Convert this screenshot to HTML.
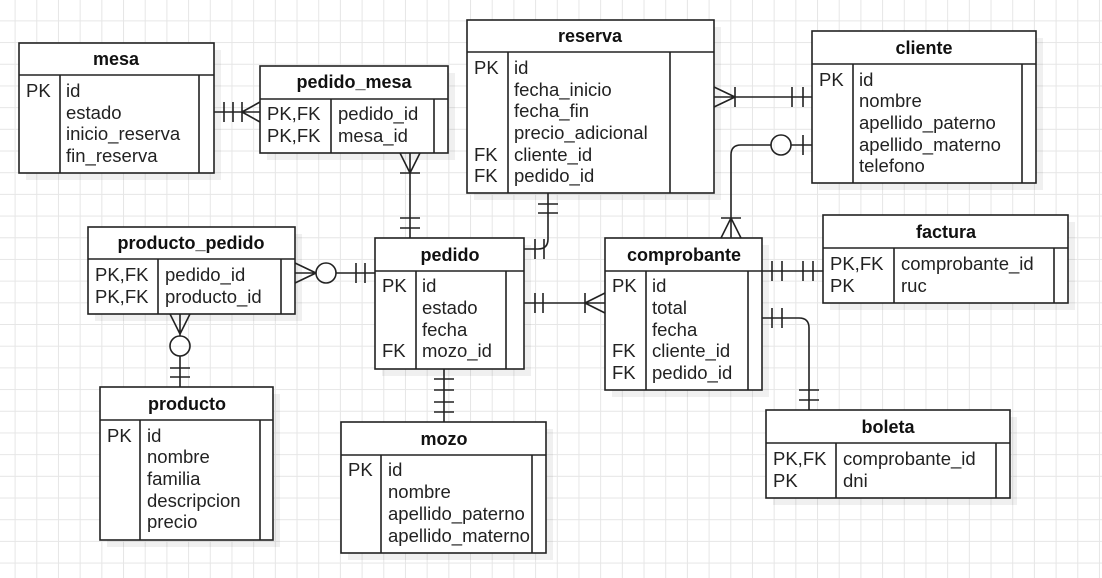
<!DOCTYPE html>
<html><head><meta charset="utf-8"><style>
html,body{margin:0;padding:0;}
body{width:1102px;height:578px;overflow:hidden;background-color:#fff;
background-image:linear-gradient(to right,#e6e6e6 1px,transparent 1px),linear-gradient(to bottom,#e6e6e6 1px,transparent 1px);
background-size:21.7px 21.7px;background-position:14.6px 20.4px;}
svg{position:absolute;left:0;top:0;}
text{font-family:"Liberation Sans",sans-serif;font-size:18.5px;fill:#222;}
.h{font-weight:bold;font-size:18px;text-anchor:middle;fill:#111;}
.b{fill:#fff;stroke:#222;stroke-width:1.6;}
.s{fill:#000;opacity:.06;}
.l{stroke:#222;stroke-width:1.6;fill:none;}
</style></head><body>
<svg width="1102" height="578" viewBox="0 0 1102 578">
<g class="shadows">
<rect class="s" x="26" y="50" width="195" height="130"/>
<rect class="s" x="267" y="73" width="188" height="87"/>
<rect class="s" x="474" y="27" width="247" height="173"/>
<rect class="s" x="819" y="38" width="224" height="152"/>
<rect class="s" x="95" y="234" width="207" height="87"/>
<rect class="s" x="382" y="245" width="149" height="131"/>
<rect class="s" x="612" y="245" width="157" height="152"/>
<rect class="s" x="830" y="222" width="245" height="88"/>
<rect class="s" x="107" y="394" width="173" height="153"/>
<rect class="s" x="348" y="429" width="205" height="131"/>
<rect class="s" x="773" y="417" width="244" height="88"/>
</g>

<!-- mesa -->
<rect class="b" x="19" y="43" width="195" height="130"/>
<path class="l" d="M19,75H214M60,75V173M199,75V173"/>
<text class="h" x="116" y="65">mesa</text>
<text x="26" y="97">PK</text>
<text x="66" y="97">id</text><text x="66" y="119">estado</text><text x="66" y="140">inicio_reserva</text><text x="66" y="162">fin_reserva</text>

<!-- pedido_mesa -->
<rect class="b" x="260" y="66" width="188" height="87"/>
<path class="l" d="M260,99H448M331,99V153M434,99V153"/>
<text class="h" x="354" y="88">pedido_mesa</text>
<text x="267" y="120">PK,FK</text><text x="338" y="120">pedido_id</text>
<text x="267" y="142">PK,FK</text><text x="338" y="142">mesa_id</text>

<!-- reserva -->
<rect class="b" x="467" y="20" width="247" height="173"/>
<path class="l" d="M467,52H714M508,52V193M670,52V193"/>
<text class="h" x="590" y="42">reserva</text>
<text x="474" y="74">PK</text>
<text x="474" y="161">FK</text><text x="474" y="182">FK</text>
<text x="514" y="74">id</text><text x="514" y="96">fecha_inicio</text><text x="514" y="117">fecha_fin</text><text x="514" y="139">precio_adicional</text><text x="514" y="161">cliente_id</text><text x="514" y="182">pedido_id</text>

<!-- cliente -->
<rect class="b" x="812" y="31" width="224" height="152"/>
<path class="l" d="M812,64H1036M853,64V183M1022,64V183"/>
<text class="h" x="924" y="54">cliente</text>
<text x="819" y="86">PK</text>
<text x="859" y="86">id</text><text x="859" y="107">nombre</text><text x="859" y="129">apellido_paterno</text><text x="859" y="151">apellido_materno</text><text x="859" y="172">telefono</text>

<!-- producto_pedido -->
<rect class="b" x="88" y="227" width="207" height="87"/>
<path class="l" d="M88,259H295M158,259V314M281,259V314"/>
<text class="h" x="191" y="249">producto_pedido</text>
<text x="95" y="281">PK,FK</text><text x="165" y="281">pedido_id</text>
<text x="95" y="303">PK,FK</text><text x="165" y="303">producto_id</text>

<!-- pedido -->
<rect class="b" x="375" y="238" width="149" height="131"/>
<path class="l" d="M375,271H524M416,271V369M506,271V369"/>
<text class="h" x="450" y="261">pedido</text>
<text x="382" y="292">PK</text><text x="382" y="357">FK</text>
<text x="422" y="292">id</text><text x="422" y="314">estado</text><text x="422" y="336">fecha</text><text x="422" y="357">mozo_id</text>

<!-- comprobante -->
<rect class="b" x="605" y="238" width="157" height="152"/>
<path class="l" d="M605,271H762M646,271V390M748,271V390"/>
<text class="h" x="684" y="261">comprobante</text>
<text x="612" y="292">PK</text><text x="612" y="357">FK</text><text x="612" y="379">FK</text>
<text x="652" y="292">id</text><text x="652" y="314">total</text><text x="652" y="336">fecha</text><text x="652" y="357">cliente_id</text><text x="652" y="379">pedido_id</text>

<!-- factura -->
<rect class="b" x="823" y="215" width="245" height="88"/>
<path class="l" d="M823,248H1068M894,248V303M1054,248V303"/>
<text class="h" x="946" y="238">factura</text>
<text x="830" y="270">PK,FK</text><text x="901" y="270">comprobante_id</text>
<text x="830" y="292">PK</text><text x="901" y="292">ruc</text>

<!-- producto -->
<rect class="b" x="100" y="387" width="173" height="153"/>
<path class="l" d="M100,420H273M140,420V540M260,420V540"/>
<text class="h" x="187" y="410">producto</text>
<text x="107" y="442">PK</text>
<text x="147" y="442">id</text><text x="147" y="463">nombre</text><text x="147" y="485">familia</text><text x="147" y="507">descripcion</text><text x="147" y="528">precio</text>

<!-- mozo -->
<rect class="b" x="341" y="422" width="205" height="131"/>
<path class="l" d="M341,455H546M381,455V553M532,455V553"/>
<text class="h" x="444" y="445">mozo</text>
<text x="348" y="476">PK</text>
<text x="388" y="476">id</text><text x="388" y="498">nombre</text><text x="388" y="520">apellido_paterno</text><text x="388" y="542">apellido_materno</text>

<!-- boleta -->
<rect class="b" x="766" y="410" width="244" height="88"/>
<path class="l" d="M766,443H1010M836,443V498M996,443V498"/>
<text class="h" x="888" y="433">boleta</text>
<text x="773" y="465">PK,FK</text><text x="843" y="465">comprobante_id</text>
<text x="773" y="487">PK</text><text x="843" y="487">dni</text>

<!-- connectors -->
<g class="l">
<!-- mesa - pedido_mesa -->
<path d="M214,112H260M224,102V122M233,102V122M242,102V122M242,112L260,102M242,112L260,122"/>
<!-- pedido_mesa - pedido -->
<path d="M410,153V238M400,173H420M410,173L400,153M410,173L420,153M400,218H420M400,228H420"/>
<!-- reserva - pedido -->
<path d="M548,193V239Q548,249 538,249H524M538,204H558M538,213H558M535,239V259M544,239V259"/>
<!-- reserva - cliente -->
<path d="M714,97H812M735,87V107M735,97L714,87M735,97L714,107M792,87V107M803,87V107"/>
<!-- cliente - comprobante -->
<path d="M812,145H791M771,145H741Q731,145 731,155V238M803,135V155M721,218H741M731,218L721,238M731,218L741,238"/>
<circle cx="781" cy="145" r="10"/>
<!-- producto_pedido - pedido -->
<path d="M295,273H316M316,273L295,263M316,273L295,283M336,273H375M356,263V283M365,263V283"/>
<circle cx="326" cy="273" r="10"/>
<!-- producto_pedido - producto -->
<path d="M180,314V336M180,334L170,314M180,334L190,314M180,356V387M170,368H190M170,377H190"/>
<circle cx="180" cy="346" r="10"/>
<!-- pedido - mozo -->
<path d="M444,369V422M434,379H454M434,390H454M434,402H454M434,412H454"/>
<!-- pedido - comprobante -->
<path d="M524,303H605M535,293V313M543,293V313M585,293V313M585,303L605,293M585,303L605,313"/>
<!-- comprobante - factura -->
<path d="M762,271H823M772,261V281M782,261V281M803,261V281M813,261V281"/>
<!-- comprobante - boleta -->
<path d="M762,318H799Q809,318 809,328V410M772,308V328M782,308V328M799,390H819M799,400H819"/>
</g>
</svg>
</body></html>
